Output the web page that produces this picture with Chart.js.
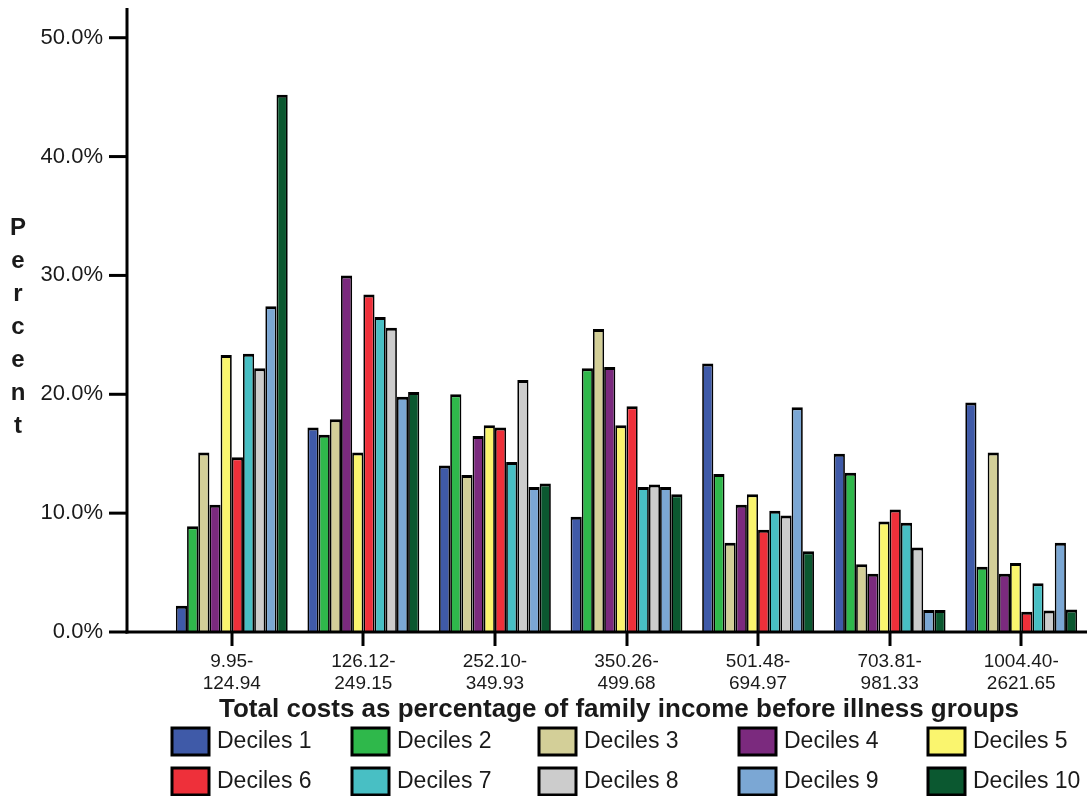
<!DOCTYPE html>
<html>
<head>
<meta charset="utf-8">
<script src="https://cdn.jsdelivr.net/npm/chart.js@4/dist/chart.umd.min.js"></script>
<style>
  html, body { margin: 0; padding: 0; background: #ffffff; }
  #wrap { width: 1087px; height: 796px; }
</style>
</head>
<body>
<div id="wrap"><canvas id="chart" width="1087" height="796"></canvas></div>
<script>
// Income-group categories (two-line tick labels)
const categories = [
  ['9.95-', '124.94'],
  ['126.12-', '249.15'],
  ['252.10-', '349.93'],
  ['350.26-', '499.68'],
  ['501.48-', '694.97'],
  ['703.81-', '981.33'],
  ['1004.40-', '2621.65']
];

const decileNames = ['Deciles 1', 'Deciles 2', 'Deciles 3', 'Deciles 4', 'Deciles 5',
                     'Deciles 6', 'Deciles 7', 'Deciles 8', 'Deciles 9', 'Deciles 10'];

const decileColors = ['#3f5aa8', '#2fb84b', '#d3cf98', '#7b2a7e', '#faf56e',
                      '#ee303a', '#48bfc4', '#cccccc', '#7ba7d4', '#0b5830'];

// Percent of households per decile in each group
const decile1  = [2.2, 17.2, 14.0,  9.7, 22.6, 15.0, 19.3];
const decile2  = [8.9, 16.6, 20.0, 22.2, 13.3, 13.4,  5.5];
const decile3  = [15.1, 17.9, 13.2, 25.5,  7.5,  5.7, 15.1];
const decile4  = [10.7, 30.0, 16.5, 22.3, 10.7,  4.9,  4.9];
const decile5  = [23.3, 15.1, 17.4, 17.4, 11.6,  9.3,  5.8];
const decile6  = [14.7, 28.4, 17.2, 19.0,  8.6, 10.3,  1.7];
const decile7  = [23.4, 26.5, 14.3, 12.2, 10.2,  9.2,  4.1];
const decile8  = [22.2, 25.6, 21.2, 12.4,  9.8,  7.1,  1.8];
const decile9  = [27.4, 19.8, 12.2, 12.2, 18.9,  1.85, 7.5];
const decile10 = [45.2, 20.2, 12.5, 11.6,  6.8,  1.85, 1.9];

const yTicks = [0, 10, 20, 30, 40, 50];

const xTitle = 'Total costs as percentage of family income before illness groups';
const yTitle = 'Percent';

const series = [decile1, decile2, decile3, decile4, decile5,
                decile6, decile7, decile8, decile9, decile10];

const FONT = '"Liberation Sans", Arial, Helvetica, sans-serif';
const INK = '#1a1a1a';

// Axis lines, tick marks, titles and legend grid
const decorPlugin = {
  id: 'decor',
  afterDraw(chart) {
    const ctx = chart.ctx;
    const area = chart.chartArea;
    const xs = chart.scales.x;
    const ys = chart.scales.y;
    const axisX = 127;
    ctx.save();
    ctx.strokeStyle = '#000';
    ctx.lineWidth = 3;
    ctx.lineCap = 'butt';
    // y axis line
    ctx.beginPath();
    ctx.moveTo(axisX, 8);
    ctx.lineTo(axisX, area.bottom + 1.5);
    ctx.stroke();
    // x axis line
    ctx.beginPath();
    ctx.moveTo(axisX - 1.5, area.bottom);
    ctx.lineTo(chart.width, area.bottom);
    ctx.stroke();
    // y tick marks
    yTicks.forEach(v => {
      const py = ys.getPixelForValue(v);
      ctx.beginPath();
      ctx.moveTo(109, py);
      ctx.lineTo(axisX, py);
      ctx.stroke();
    });
    // x tick marks
    categories.forEach((c, i) => {
      const px = Math.round(xs.getPixelForValue(i));
      ctx.beginPath();
      ctx.moveTo(px, area.bottom);
      ctx.lineTo(px, area.bottom + 14);
      ctx.stroke();
    });
    // vertical y title, one letter per line
    ctx.fillStyle = INK;
    ctx.font = 'bold 24px ' + FONT;
    ctx.textAlign = 'center';
    ctx.textBaseline = 'middle';
    yTitle.split('').forEach((ch, i) => {
      ctx.fillText(ch, 18, 228 + i * 33);
    });
    // x title
    ctx.font = 'bold 26px ' + FONT;
    ctx.fillText(xTitle, 619, 710);
    // legend: two rows of five
    const colX = [172, 352, 539, 739, 928];
    const rowY = [741, 781];
    ctx.font = '23px ' + FONT;
    ctx.textAlign = 'left';
    chart.data.datasets.forEach((ds, i) => {
      const bx = colX[i % 5];
      const by = rowY[Math.floor(i / 5)];
      ctx.fillStyle = ds.backgroundColor;
      ctx.fillRect(bx, by - 13, 37, 27);
      ctx.lineWidth = 3;
      ctx.strokeStyle = '#000';
      ctx.strokeRect(bx, by - 13, 37, 27);
      ctx.fillStyle = INK;
      ctx.fillText(ds.label, bx + 45, by + 1);
    });
    ctx.restore();
  }
};

new Chart(document.getElementById('chart'), {
  type: 'bar',
  data: {
    labels: categories,
    datasets: series.map((vals, i) => ({
      label: decileNames[i],
      data: vals,
      backgroundColor: decileColors[i],
      borderColor: '#000000',
      borderWidth: { top: 3, left: 1.75, right: 1.75, bottom: 0 },
      borderSkipped: 'start',
      inflateAmount: 0,
      barPercentage: 1.0,
      categoryPercentage: 0.85
    }))
  },
  options: {
    responsive: false,
    animation: false,
    devicePixelRatio: 1,
    layout: { padding: { top: 8, left: 0, right: 0, bottom: 0 } },
    plugins: {
      legend: { display: false },
      tooltip: { enabled: false },
      title: { display: false }
    },
    scales: {
      x: {
        type: 'category',
        offset: true,
        grid: { display: false, drawTicks: false },
        border: { display: false },
        ticks: {
          color: INK,
          font: { family: FONT, size: 19 },
          padding: 18,
          maxRotation: 0,
          autoSkip: false
        },
        afterFit(s) {
          s.height = 164;
          s.paddingLeft = 0;
          s.paddingRight = 0;
        }
      },
      y: {
        type: 'linear',
        min: 0,
        max: 52.5,
        grid: { display: false, drawTicks: false },
        border: { display: false },
        ticks: {
          color: INK,
          font: { family: FONT, size: 22 },
          padding: 63,
          callback: v => v.toFixed(1) + '%'
        },
        afterBuildTicks(s) {
          s.ticks = yTicks.map(v => ({ value: v }));
        },
        afterFit(s) {
          s.width = 166;
          s.paddingTop = 0;
          s.paddingBottom = 0;
        }
      }
    }
  },
  plugins: [decorPlugin]
});
</script>
</body>
</html>
